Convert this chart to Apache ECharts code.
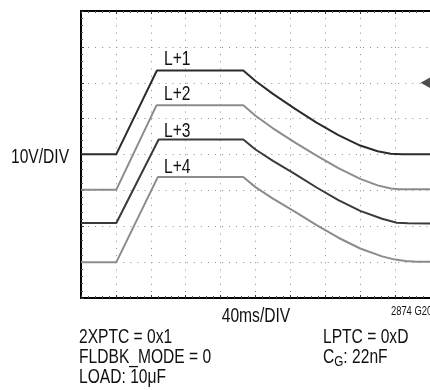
<!DOCTYPE html>
<html>
<head>
<meta charset="utf-8">
<script src="https://cdn.jsdelivr.net/npm/echarts@6/dist/echarts.min.js"></script>
<style>
  html, body { margin: 0; padding: 0; background: #fff; }
  #chart { width: 430px; height: 390px; }
</style>
</head>
<body>
<div id="chart"></div>
<script>
// Scope capture: four gate-voltage traces, 40ms/DIV horizontally, 10V/DIV vertically.
// Each trace is a list of [time (ms), voltage (V)] points.
const traceNames = ['L+1', 'L+2', 'L+3', 'L+4'];
const traceL1 = [[0, 40.1], [40.5, 40.1], [87, 63.4], [186, 63.4], [200, 60.5], [220, 56.9], [245, 52.8], [270, 48.9], [295, 45.4], [320, 42.5], [340, 40.9], [355, 40.2], [368, 40.1], [400, 40.1]];
const traceL2 = [[0, 30.2], [40.5, 30.2], [86.5, 53.7], [186, 53.7], [200, 50.8], [220, 47.3], [245, 43.4], [270, 39.7], [295, 36.2], [320, 33.2], [340, 31.4], [355, 30.5], [365, 30.3], [400, 30.3]];
const traceL3 = [[0, 20.9], [40.5, 20.9], [89, 44.2], [186, 44.2], [200, 41.4], [220, 38.2], [245, 34.6], [270, 30.8], [295, 27.3], [320, 24.3], [345, 22.1], [362, 21.0], [375, 20.85], [400, 20.8]];
const traceL4 = [[0, 10.0], [40.5, 10.0], [88, 33.7], [186, 33.7], [200, 30.9], [220, 27.7], [245, 24.1], [270, 20.3], [295, 16.8], [320, 13.8], [345, 11.6], [360, 10.7], [372, 10.3], [385, 10.1], [400, 10.1]];
const traceColors = ['#2b2b2b', '#8c8c8c', '#3a3a3a', '#8c8c8c'];
const markerLevel = [[395, 60]];

// Axis ranges (divisions)
const xMin = 0, xMax = 400, xStep = 40;
const yMin = 0, yMax = 80, yStep = 10;

const FONT = '"Liberation Sans", Arial, sans-serif';
const NARROW = 0.78; // horizontal squeeze giving a condensed face

const chart = echarts.init(document.getElementById('chart'), null, { renderer: 'canvas' });

const borderAxis = {
  axisLine: { show: true, lineStyle: { color: '#000', width: 2 } },
  axisTick: { show: true, inside: true, length: 3, lineStyle: { color: '#333', width: 1 } },
  minorTick: { show: true, splitNumber: 5, length: 2, lineStyle: { color: '#555', width: 1 } },
  axisLabel: { show: false }
};

const traces = [traceL1, traceL2, traceL3, traceL4].map((data, i) => ({
  name: traceNames[i],
  type: 'line',
  data: data,
  showSymbol: false,
  smooth: false,
  lineStyle: { color: traceColors[i], width: 2 },
  z: 5 - i
}));

const txt = (text, x, y, size, align) => ({
  type: 'text',
  x: x, y: y,
  scaleX: NARROW,
  style: {
    text: text,
    font: size + 'px ' + FONT,
    fill: '#111',
    align: align || 'left',
    verticalAlign: 'middle'
  }
});

chart.setOption({
  animation: false,
  backgroundColor: '#fff',
  grid: { left: 81, top: 11, width: 352.5, height: 287, show: false },
  xAxis: [
    Object.assign({
      type: 'value', min: xMin, max: xMax, interval: xStep, position: 'bottom',
      splitLine: { show: true, lineStyle: { color: '#8a8a8a', width: 1, type: [1, 6.18] } }
    }, borderAxis),
    Object.assign({
      type: 'value', min: xMin, max: xMax, interval: xStep, position: 'top',
      splitLine: { show: false }
    }, borderAxis)
  ],
  yAxis: [
    Object.assign({
      type: 'value', min: yMin, max: yMax, interval: yStep, position: 'left',
      splitLine: { show: true, lineStyle: { color: '#8a8a8a', width: 1, type: [1, 6.05] } }
    }, borderAxis)
  ],
  series: traces.concat([{
    name: 'level',
    type: 'scatter',
    data: markerLevel,
    symbol: 'triangle',
    symbolRotate: 90,
    symbolSize: [11, 10],
    itemStyle: { color: '#222' },
    z: 6
  }]),
  graphic: [
    txt('L+1', 164, 59, 20),
    txt('L+2', 164, 94, 20),
    txt('L+3', 164, 131, 20),
    txt('L+4', 164, 167, 20),
    txt('10V/DIV', 11, 157, 20),
    txt('40ms/DIV', 256, 316, 20, 'center'),
    txt('2874 G20', 391, 312, 12),
    txt('2XPTC = 0x1', 79, 337, 20),
    txt('FLDBK_MODE = 0', 79, 357, 20),
    txt('LOAD: 10μF', 79, 377, 20),
    txt('LPTC = 0xD', 323, 337, 20),
    {
      type: 'text', x: 323, y: 357,
      scaleX: NARROW,
      style: {
        text: '{m|C}{s|G}{m|: 22nF}',
        verticalAlign: 'middle',
        rich: {
          m: { font: '20px ' + FONT, fill: '#111' },
          s: { font: '15px ' + FONT, fill: '#111', padding: [9, 0, 0, 0] }
        }
      }
    }
  ]
});
</script>
</body>
</html>
